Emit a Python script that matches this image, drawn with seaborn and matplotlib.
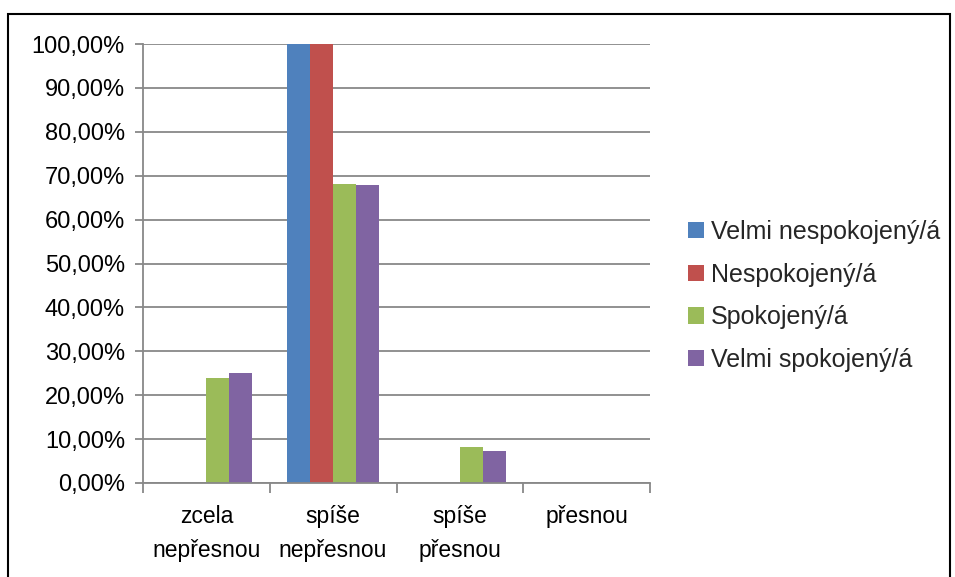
import matplotlib
matplotlib.use("Agg")
import matplotlib.pyplot as plt
import seaborn as sns
import pandas as pd
from matplotlib.patches import Rectangle
from matplotlib.ticker import FuncFormatter, FixedLocator

categories = ["zcela\nnepřesnou", "spíše\nnepřesnou", "spíše\npřesnou", "přesnou"]
series = ["Velmi nespokojený/á", "Nespokojený/á", "Spokojený/á", "Velmi spokojený/á"]
velmi_nespokojeny = [0.0, 100.0, 0.0, 0.0]
nespokojeny = [0.0, 100.0, 0.0, 0.0]
spokojeny = [24.0, 68.2, 8.1, 0.0]
velmi_spokojeny = [25.0, 67.9, 7.2, 0.0]
colors = ["#4F81BD", "#C0504D", "#9BBB59", "#8064A2"]
yticks = [0, 10, 20, 30, 40, 50, 60, 70, 80, 90, 100]

values = [velmi_nespokojeny, nespokojeny, spokojeny, velmi_spokojeny]
rows = []
for s, vals in zip(series, values):
    for c, v in zip(categories, vals):
        rows.append({"kategorie": c, "skupina": s, "hodnota": v})
df = pd.DataFrame(rows)

sns.set_style("white")
plt.rcParams["font.family"] = ["Liberation Sans", "DejaVu Sans"]

fig = plt.figure(figsize=(9.55, 5.77), dpi=100)
ax = fig.add_axes([143 / 955, 1 - 483 / 577, (650 - 143) / 955, (483 - 44) / 577])

sns.barplot(data=df, x="kategorie", y="hodnota", hue="skupina", order=categories,
            hue_order=series, palette=colors, width=4 / 5.5, gap=0, linewidth=0,
            saturation=1, errorbar=None, ax=ax, legend=True)

grid_c = "#888888"
ax.set_xlim(-0.5, 3.5)
ax.set_ylim(0, 100)
ax.set_yticks(yticks)
ax.yaxis.set_major_formatter(FuncFormatter(lambda v, p: f"{v:.2f}".replace(".", ",") + "%"))
ax.yaxis.grid(True, color=grid_c, linewidth=1.3)
ax.set_axisbelow(True)
ax.set_xlabel("")
ax.set_ylabel("")
for sp in ["top", "right"]:
    ax.spines[sp].set_visible(False)
for sp in ["left", "bottom"]:
    ax.spines[sp].set_color(grid_c)
    ax.spines[sp].set_linewidth(1.3)

ax.tick_params(axis="y", which="major", left=True, length=6, width=1.3, color=grid_c,
               labelsize=17, pad=7, labelcolor="black")
ax.xaxis.set_minor_locator(FixedLocator([-0.5, 0.5, 1.5, 2.5, 3.5]))
ax.tick_params(axis="x", which="minor", bottom=True, length=7, width=1.3, color=grid_c)
ax.set_xticks(range(4))
ax.set_xticklabels(categories)
ax.tick_params(axis="x", which="major", bottom=False, length=0, labelsize=16.5, pad=16,
               labelcolor="black")
for lbl in ax.get_xticklabels():
    lbl.set_verticalalignment("top")
    lbl.set_linespacing(1.6)

handles, labels = ax.get_legend_handles_labels()
ax.legend(handles, labels, loc="center left", bbox_to_anchor=(688 / 955, 1 - 296 / 577),
          bbox_transform=fig.transFigure, frameon=False, fontsize=18,
          handlelength=0.62, handleheight=0.62, handletextpad=0.3,
          labelspacing=0.75, borderpad=0, borderaxespad=0)

fig.patches.append(Rectangle((8 / 955, -0.01), (950 - 8) / 955, 1 - 14 / 577 + 0.01,
                             transform=fig.transFigure, fill=False,
                             edgecolor="black", linewidth=1.5))

fig.savefig("out.png", dpi=100)
